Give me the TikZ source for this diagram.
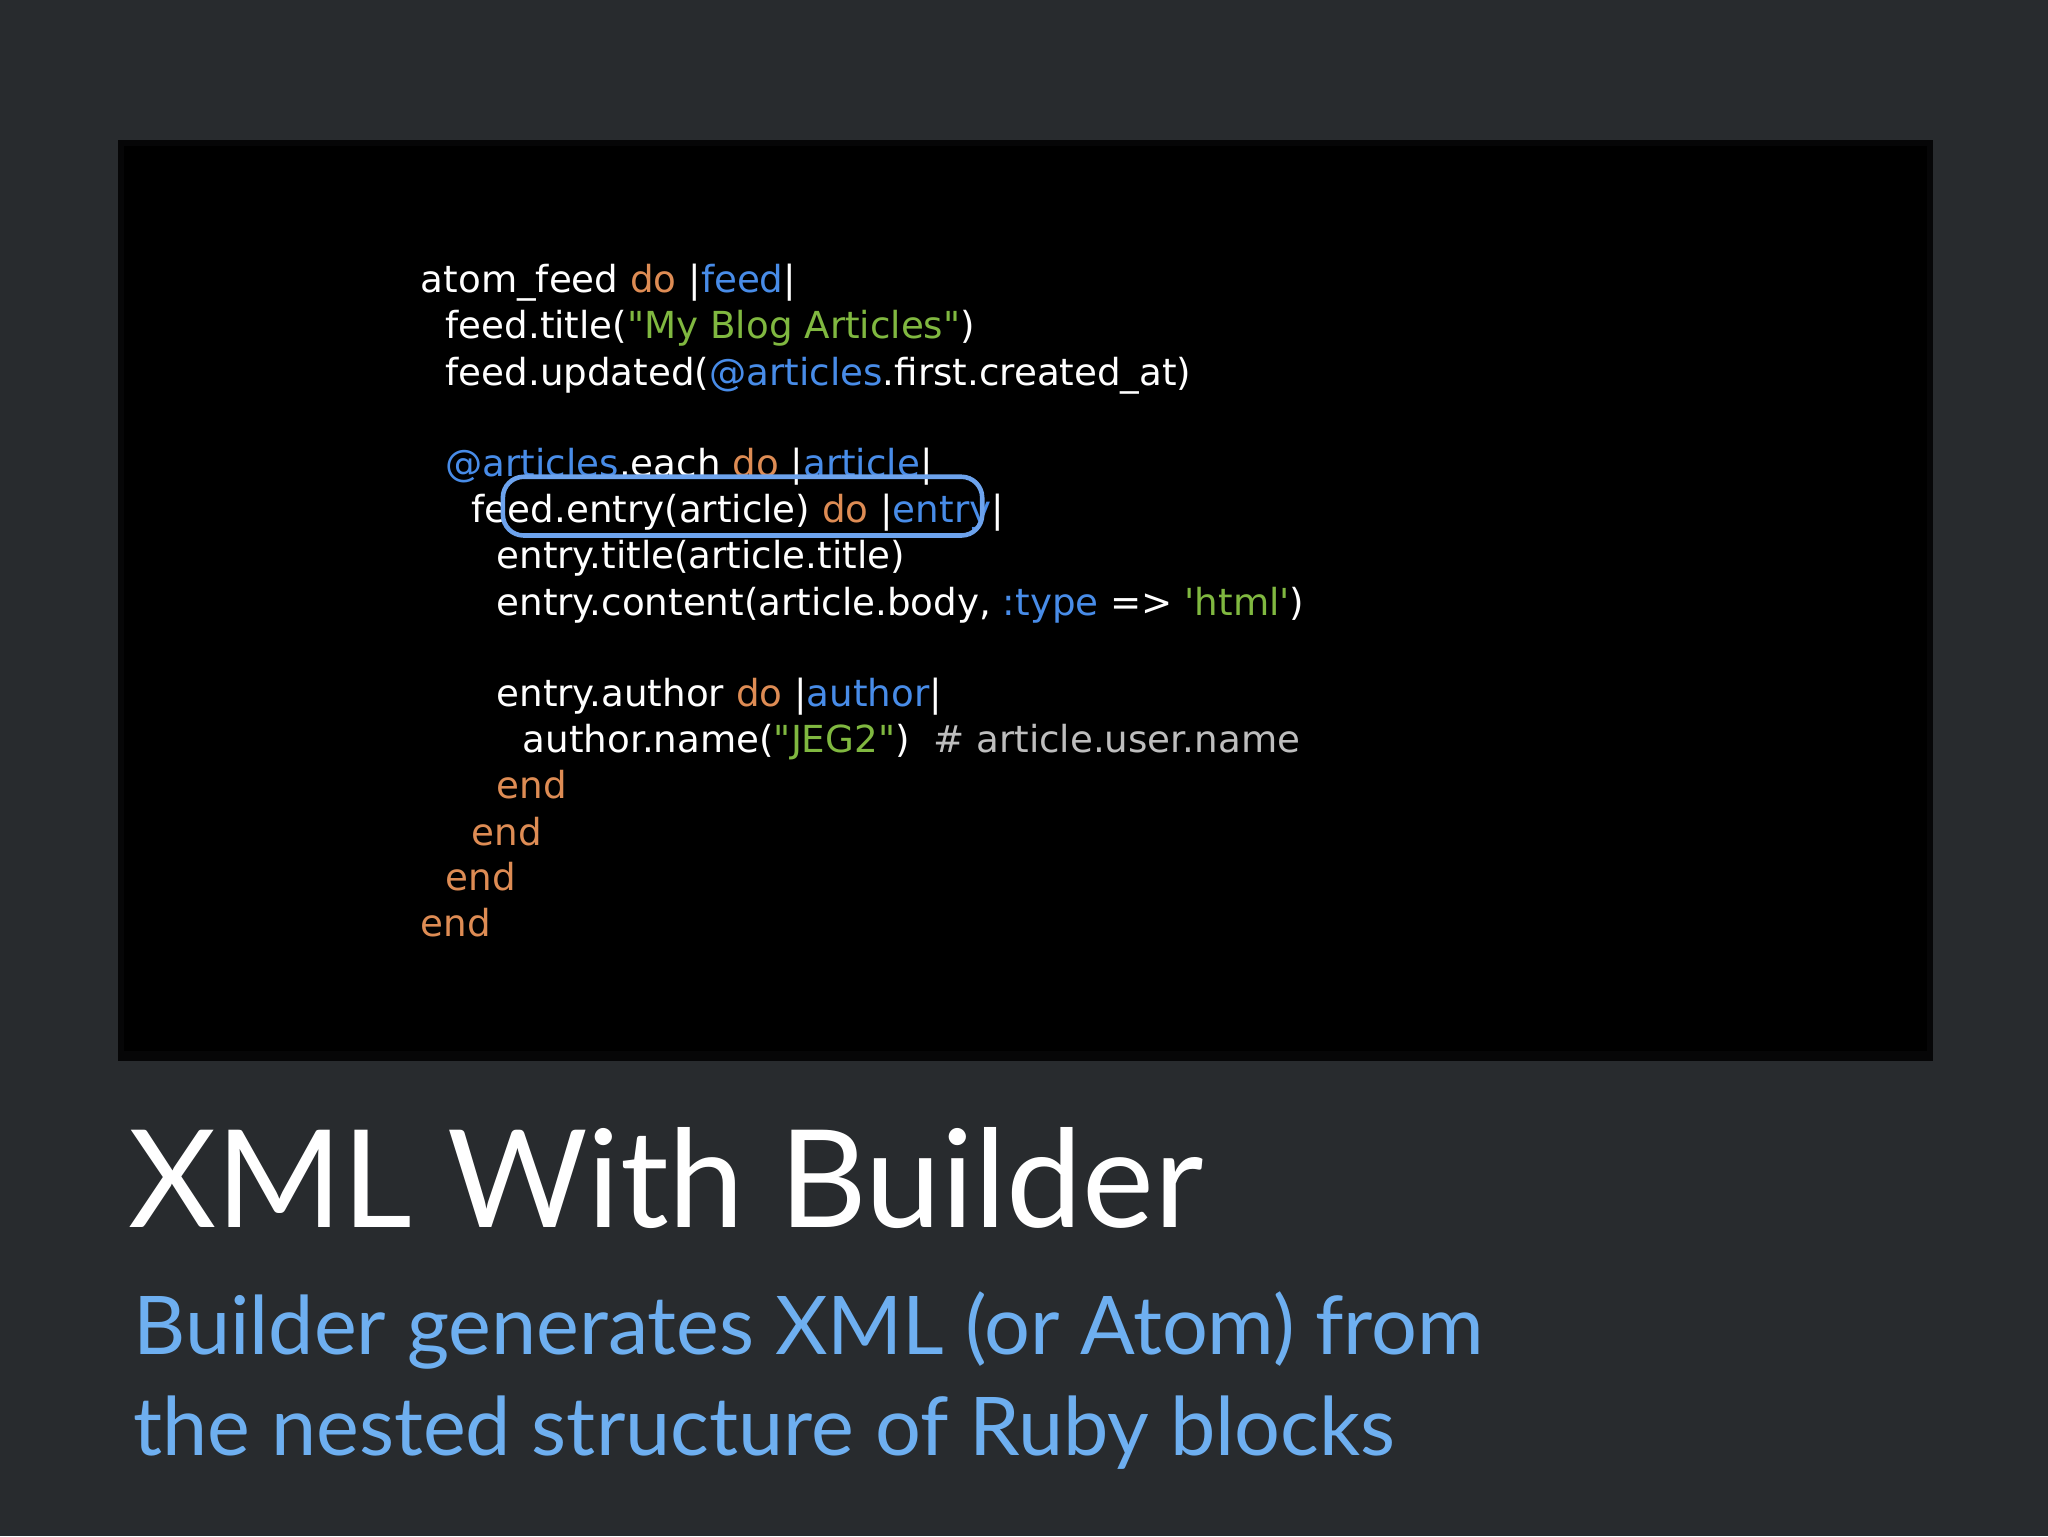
\documentclass[tikz,border=0pt]{standalone}
\usepackage{fontspec}
\setmainfont{DejaVu Sans}[Ligatures=TeXOff]
\newfontfamily\titlefont{Lato}
\definecolor{kw}{RGB}{222,140,84}
\definecolor{bl}{RGB}{72,140,232}
\definecolor{gr}{RGB}{128,184,64}
\definecolor{cm}{RGB}{190,190,190}
\definecolor{sub}{RGB}{110,175,240}
\definecolor{bg}{RGB}{40,43,46}
\newcommand{\K}[1]{\textcolor{kw}{#1}}
\newcommand{\B}[1]{\textcolor{bl}{#1}}
\newcommand{\G}[1]{\textcolor{gr}{#1}}
\newcommand{\dq}{"}
\newcommand{\sq}{'}
\begin{document}
\begin{tikzpicture}[x=1pt,y=-1pt,
  code/.style={anchor=base west,inner sep=0,text=white,font=\fontsize{28.5}{30}\selectfont},
]
\fill[bg] (0,0) rectangle (1568,1176);
\fill[black!85!bg] (90,107) rectangle (1480,812);
\fill[black] (95,112) rectangle (1475,805);
\node[code] (l1) at (322,224) {atom\_feed \K{do} |\B{feed}|};
\node[code] (l2) at (341,259) {feed.title(\G{\dq My Blog Articles\dq})};
\node[code] (l3) at (341,295) {feed.updated(\B{@articles}.first.created\_at)};
\node[code] (l4) at (341,365) {\B{@articles}.each \K{do} |\B{article}|};
\node[code] (l5) at (361,400) {feed.entry(article) \K{do} |\B{entry}|};
\node[code] (l6) at (380,435) {entry.title(article.title)};
\node[code] (l7) at (380,471) {entry.content(article.body, \B{:type} => \G{\sq html\sq})};
\node[code] (l8) at (380,541) {entry.author \K{do} |\B{author}|};
\node[code] (l9) at (400,576) {author.name(\G{\dq JEG2\dq})\ \ \textcolor{cm}{\# article.user.name}};
\node[code] (l10) at (380,611) {\K{end}};
\node[code] (l11) at (361,647) {\K{end}};
\node[code] (l12) at (341,682) {\K{end}};
\node[code] (l13) at (322,717) {\K{end}};
\draw[bl!80!white,line width=3.5,rounded corners=16] (385,365) rectangle (752,410);
\node[anchor=base west,inner sep=0,text=white,font=\titlefont\fontsize{104}{110}\selectfont] (title) at (98,940) {XML With Builder};
\node[anchor=base west,inner sep=0,text=sub,font=\titlefont\fontsize{62}{78}\selectfont] (s1) at (102,1037) {Builder generates XML (or Atom) from};
\node[anchor=base west,inner sep=0,text=sub,font=\titlefont\fontsize{62}{78}\selectfont] (s2) at (102,1114) {the nested structure of Ruby blocks};
\end{tikzpicture}
\end{document}
